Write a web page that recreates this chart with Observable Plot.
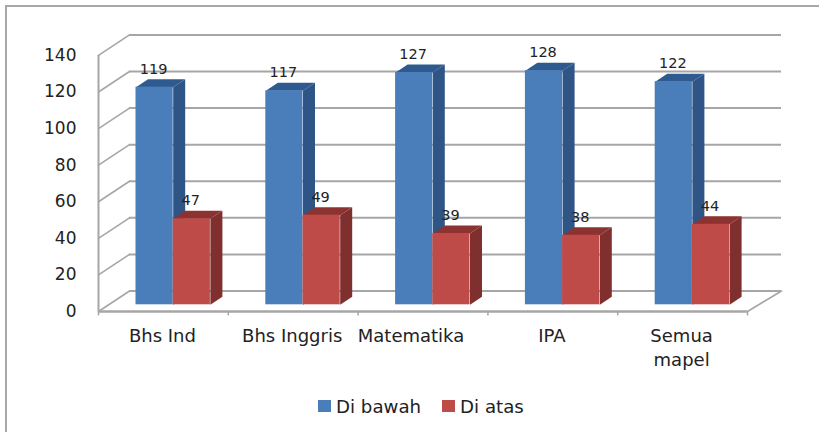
<!DOCTYPE html>
<html>
<head>
<meta charset="utf-8">
<script src="https://cdn.jsdelivr.net/npm/d3@7"></script>
<script src="https://cdn.jsdelivr.net/npm/@observablehq/plot@0.6"></script>
<style>
  html,body{margin:0;padding:0;background:#fff;overflow:hidden}
  #wrap{position:relative;width:819px;height:432px}
  #frame{position:absolute;left:5px;top:5px;right:0;bottom:0;border-top:2px solid #a8a8a8;border-left:2px solid #a8a8a8;pointer-events:none}
  #chart{position:absolute;left:0;top:0}
  #legend{position:absolute;left:318px;top:393px;display:flex;align-items:center;font:18.2px "DejaVu Sans",sans-serif;color:#222;height:26px}
  #legend i{display:inline-block;width:13px;height:12px;margin-right:5px}
  #legend span{display:flex;align-items:center;margin-right:21px}
</style>
</head>
<body>
<div id="wrap"><div id="chart"></div><div id="frame"></div><div id="legend"></div></div>
<script>
const categories = ["Bhs Ind", "Bhs Inggris", "Matematika", "IPA", "Semua\nmapel"];
const diBawah = [119, 117, 127, 128, 122];
const diAtas = [47, 49, 39, 38, 44];
const yTicks = [0, 20, 40, 60, 80, 100, 120, 140];
const seriesNames = ["Di bawah", "Di atas"];
const colors = {
  front: ["#4a7ebb", "#be4b48"],
  side: ["#2f5587", "#7f2f2e"],
  top: ["#2f5a90", "#8c3332"]
};

// Layout of the oblique 3D projection, in data units
const width = 819, height = 385, mL = 98, mR = 29, mT = 30, mB = 74;
const unitX = 129.8, unitY = 1.829;
const wallX = 31 / unitX, wallY = 20.5 / unitY;    // depth of the floor
const depthX = 12 / unitX, depthY = 8 / unitY;     // depth of a bar
const barStart = 37.5 / unitX, barW = 37.2 / unitX, barBase = 6.7 / unitY;
const endX = 5 + 34 / unitX;
const gridColor = "#a6a6a6";

const bars = [];
[diBawah, diAtas].forEach((vals, s) => vals.forEach((v, i) => {
  const x0 = i + barStart + s * barW;
  bars.push({s, i, v, x0, x1: x0 + barW, y0: barBase, y1: barBase + v});
}));

const sidePoly = b => [[b.x1, b.y0], [b.x1 + depthX, b.y0 + depthY], [b.x1 + depthX, b.y1 + depthY], [b.x1, b.y1]];
const topPoly = b => [[b.x0, b.y1], [b.x1, b.y1], [b.x1 + depthX, b.y1 + depthY], [b.x0 + depthX, b.y1 + depthY]];
const polys = (s, f) => bars.filter(b => b.s === s).flatMap(b => f(b).map(([x, y]) => ({x, y, z: b.i})));

const barMarks = s => [
  Plot.line(polys(s, sidePoly), {x: "x", y: "y", z: "z", fill: colors.side[s], stroke: "none"}),
  Plot.line(polys(s, topPoly), {x: "x", y: "y", z: "z", fill: colors.top[s], stroke: "none"}),
  Plot.rect(bars.filter(b => b.s === s), {x1: "x0", x2: "x1", y1: "y0", y2: "y1", fill: colors.front[s]})
];

const slants = yTicks.flatMap(t => [{x: 0, y: t, t}, {x: wallX, y: t + wallY, t}]);
const catLines = categories.flatMap((c, i) => c.split("\n").map((text, line) => ({text, i, line})));
const catLabel = (filter, dx, dy) => Plot.text(catLines, {
  filter, x: d => d.i + 0.5, y: 0, text: "text", dx, dy,
  lineAnchor: "middle", fontSize: 18, fill: "#222"
});

const plot = Plot.plot({
  width, height,
  marginLeft: mL, marginRight: mR, marginTop: mT, marginBottom: mB,
  x: {domain: [0, (width - mL - mR) / unitX], axis: null},
  y: {domain: [0, (height - mT - mB) / unitY], axis: null},
  style: {background: "transparent", fontFamily: "DejaVu Sans, sans-serif"},
  marks: [
    // back wall grid
    Plot.ruleY(yTicks, {y: t => t + wallY, x1: wallX, x2: endX, stroke: gridColor, strokeWidth: 2}),
    Plot.line(slants, {x: "x", y: "y", z: "t", stroke: gridColor, strokeWidth: 1.6}),
    // left edge and floor
    Plot.ruleX([0], {y1: 0, y2: 140, stroke: gridColor, strokeWidth: 2}),
    Plot.line([{x: 5, y: 0}, {x: endX, y: wallY}], {x: "x", y: "y", stroke: gridColor, strokeWidth: 1.6}),
    Plot.ruleY([0], {x1: 0, x2: 5, stroke: gridColor, strokeWidth: 2.4}),
    Plot.ruleX(d3.range(0, 6), {x: d => d, y1: -2.4, y2: 0, stroke: gridColor, strokeWidth: 1.5}),
    // bars
    ...barMarks(0),
    ...barMarks(1),
    // value labels
    Plot.text(bars, {x: b => (b.x0 + b.x1) / 2, y: "y1", text: "v", dx: -1, dy: -18, fontSize: 14.5, fill: "#222"}),
    // axes
    Plot.axisY(yTicks, {anchor: "left", tickSize: 0, tickPadding: 22, fontSize: 17, fill: "#222", label: null}),
    catLabel(d => d.line === 0 && d.text !== "Matematika", -1, 25),
    catLabel(d => d.text === "Matematika", -12, 25),
    catLabel(d => d.line === 1, -1, 49)
  ]
});
document.getElementById("chart").append(plot);

const lg = document.getElementById("legend");
seriesNames.forEach((n, s) => {
  const sp = document.createElement("span");
  const sw = document.createElement("i");
  sw.style.background = colors.front[s];
  sp.append(sw, document.createTextNode(n));
  lg.append(sp);
});
</script>
</body>
</html>
